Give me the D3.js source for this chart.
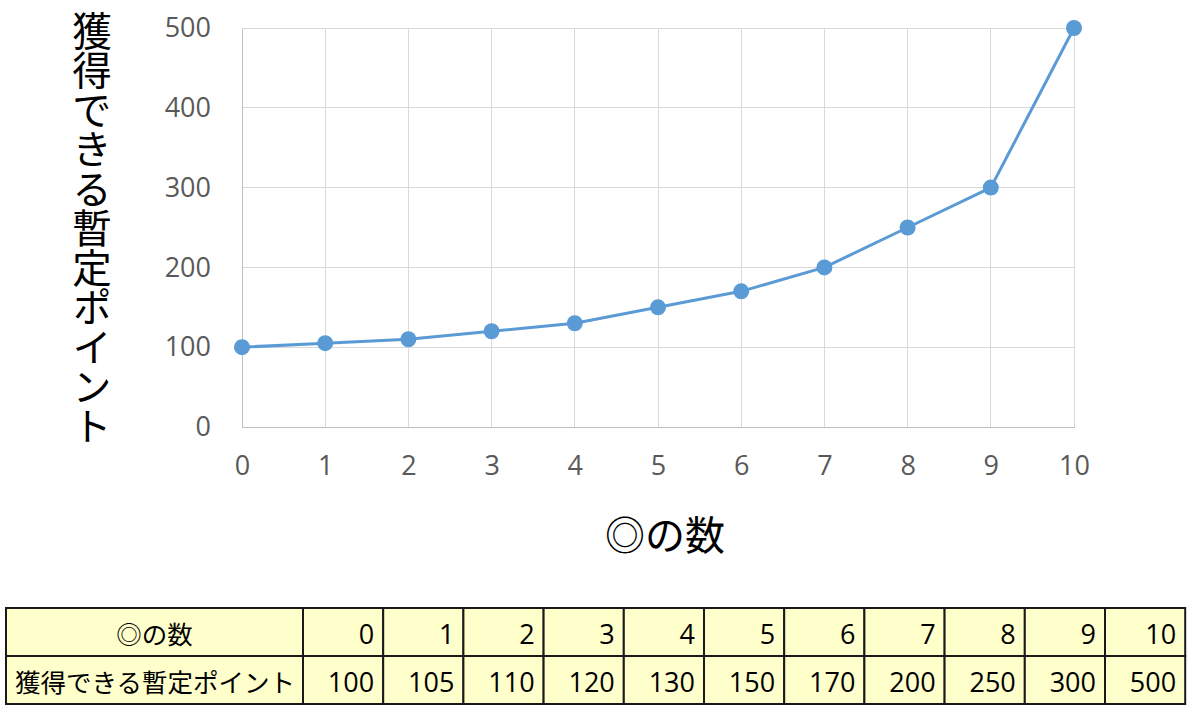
<!DOCTYPE html>
<html><head><meta charset="utf-8">
<script src="https://cdn.jsdelivr.net/npm/d3@7"></script>
<style>
html,body{margin:0;padding:0;background:#fff;}
svg{display:block;}
</style></head>
<body>
<svg id="chart" width="1191" height="713"></svg>
<script>
const categories = [0,1,2,3,4,5,6,7,8,9,10];
const points = [100,105,110,120,130,150,170,200,250,300,500];
const yTicks = [0,100,200,300,400,500];
const xTitle = "◎の数";
const yTitle = "獲得できる暫定ポイント";
const rowLabels = ["◎の数","獲得できる暫定ポイント"];

const W = 1191, H = 713;
const m = {left:242, right:W-1074, top:28, bottom:H-427};
const svg = d3.select("#chart");
const latin = "'Open Sans','Segoe UI',sans-serif";
const jp = "'Noto Sans CJK JP',sans-serif";

const x = d3.scaleLinear().domain([0,10]).range([m.left, W-m.right]);
const y = d3.scaleLinear().domain([0,500]).range([H-m.bottom, m.top]);

// gridlines
svg.append("g").selectAll("line.h").data(yTicks.filter(d=>d>0)).join("line")
  .attr("x1",x(0)).attr("x2",x(10)).attr("y1",d=>y(d)).attr("y2",d=>y(d))
  .attr("stroke","#d9d9d9").attr("stroke-width",1).attr("shape-rendering","crispEdges");
svg.append("g").selectAll("line.v").data(categories.filter(d=>d>0)).join("line")
  .attr("x1",d=>x(d)).attr("x2",d=>x(d)).attr("y1",y(0)).attr("y2",y(500))
  .attr("stroke","#d9d9d9").attr("stroke-width",1).attr("shape-rendering","crispEdges");

// axes
const yAxis = svg.append("g").attr("transform",`translate(${m.left},0)`)
  .call(d3.axisLeft(y).tickValues(yTicks).tickSize(0).tickPadding(31));
yAxis.select(".domain").attr("stroke","#bfbfbf").attr("stroke-width",1).attr("shape-rendering","crispEdges");
yAxis.selectAll("text").attr("fill","#595959").style("font-family",latin).style("font-size","27px");

const xAxis = svg.append("g").attr("transform",`translate(0,${y(0)})`)
  .call(d3.axisBottom(x).tickValues(categories).tickFormat(d3.format("d")).tickSize(0).tickPadding(29));
xAxis.select(".domain").attr("stroke","#bfbfbf").attr("stroke-width",1).attr("shape-rendering","crispEdges");
xAxis.selectAll("text").attr("fill","#595959").style("font-family",latin).style("font-size","27px");

// line
const line = d3.line().x((d,i)=>x(categories[i])).y(d=>y(d));
svg.append("path").datum(points).attr("d",line)
  .attr("fill","none").attr("stroke","#5b9bd5").attr("stroke-width",3).attr("stroke-linejoin","round");
svg.append("g").selectAll("circle").data(points).join("circle")
  .attr("cx",(d,i)=>x(categories[i])).attr("cy",d=>y(d)).attr("r",8)
  .attr("fill","#5b9bd5");

// titles
svg.append("text").attr("x",665).attr("y",533).attr("text-anchor","middle")
  .attr("dominant-baseline","central")
  .style("font-family",jp).style("font-size","40px").attr("fill","#000").text(xTitle);

svg.append("text").attr("x",92).attr("y",228).attr("text-anchor","middle")
  .style("writing-mode","vertical-rl").style("text-orientation","upright")
  .style("font-family",jp).style("font-size","39.5px").attr("fill","#000").text(yTitle);

// table
const tLeft = 6, tTop = 608, firstW = 297, cellW = 80.2, rowH = 48;
const tbl = svg.append("g");
const rows = [categories, points];
rows.forEach((vals,r)=>{
  const yy = tTop + r*rowH;
  tbl.append("rect").attr("x",tLeft).attr("y",yy).attr("width",firstW).attr("height",rowH)
    .attr("fill","#ffffcc").attr("stroke","#1a1a1a").attr("stroke-width",2);
  tbl.append("text").attr("x", r===0 ? tLeft+firstW/2 : tLeft+9).attr("y",yy+rowH/2)
    .attr("text-anchor", r===0 ? "middle":"start").attr("dominant-baseline","central")
    .style("font-family",jp).style("font-size","25.5px").attr("fill","#000").text(rowLabels[r]);
  tbl.selectAll(null).data(vals).join("rect")
    .attr("x",(d,i)=>tLeft+firstW+i*cellW).attr("y",yy).attr("width",cellW).attr("height",rowH)
    .attr("fill","#ffffcc").attr("stroke","#1a1a1a").attr("stroke-width",2);
  tbl.selectAll(null).data(vals).join("text")
    .attr("x",(d,i)=>tLeft+firstW+(i+1)*cellW-9).attr("y",yy+rowH/2+1)
    .attr("text-anchor","end").attr("dominant-baseline","central")
    .style("font-family",latin).style("font-size","27px").attr("fill","#000").text(d=>d);
});
</script>
</body></html>
